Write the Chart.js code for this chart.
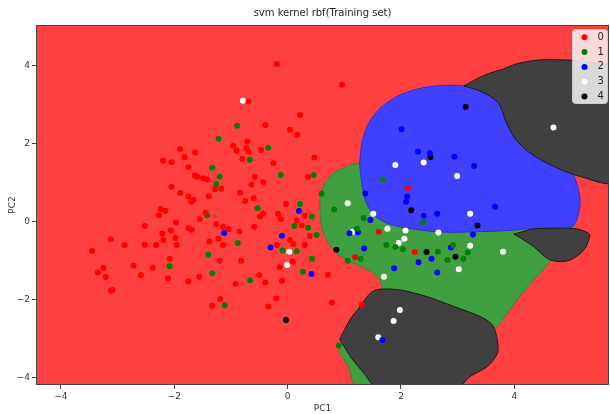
<!DOCTYPE html>
<html>
<head>
<meta charset="utf-8">
<script src="https://cdn.jsdelivr.net/npm/chart.js@4.4.0/dist/chart.umd.min.js"></script>
<style>
  html, body { margin: 0; padding: 0; background: #fff; }
  #wrap { width: 610px; height: 414px; }
</style>
</head>
<body>
<div id="wrap"><canvas id="chart" width="610" height="414"></canvas></div>
<script>
// --- tick labels ---
const xTicks = [-4, -2, 0, 2, 4];
const yTicks = [-4, -2, 0, 2, 4];
const classLabels = ['0', '1', '2', '3', '4'];

// --- training points, one list per class, [PC1, PC2] ---
const class0 = [[-0.19,4.03],[-0.69,3.07],[0.22,2.73],[-0.39,2.47],[0.04,2.35],[0.17,2.22],[-0.71,2.05],[-0.96,1.94],[-0.90,1.82],[-0.73,1.88],[-0.69,1.79],[-0.47,1.83],[-1.90,1.86],[-1.63,1.77],[-1.82,1.65],[-2.20,1.56],[-2.05,1.52],[-0.80,1.60],[-0.25,1.49],[0.47,1.64],[-1.75,1.39],[-1.64,1.18],[-1.59,1.15],[-1.49,1.11],[-1.42,1.08],[-0.58,1.15],[-0.64,0.94],[-0.43,1.01],[0.36,1.14],[-2.05,0.89],[-1.89,0.73],[-1.75,0.64],[-1.66,0.55],[-1.70,0.51],[-1.39,0.64],[-1.17,0.84],[-0.84,0.74],[-0.75,0.53],[-0.60,0.60],[-1.28,0.83],[-2.24,0.32],[-2.16,0.28],[-2.27,0.16],[-1.45,0.23],[-1.55,0.06],[-0.03,0.45],[-0.17,0.20],[-0.12,0.06],[0.30,0.15],[-0.43,0.21],[-0.49,0.13],[-2.52,-0.11],[-1.97,-0.02],[-1.75,-0.17],[-1.69,-0.21],[-1.26,-0.06],[-1.14,-0.13],[-1.04,-0.19],[-0.85,-0.25],[-0.59,-0.13],[0.16,0.02],[0.25,-0.09],[-3.12,-0.45],[-2.88,-0.60],[-2.52,-0.59],[-2.32,-0.60],[-2.21,-0.31],[-2.19,-0.47],[-2.06,-0.23],[-1.98,-0.42],[-1.96,-0.60],[-1.22,-0.44],[-1.38,-0.51],[-1.14,-0.60],[-0.19,-0.60],[0.10,-0.57],[0.30,-0.60],[0.39,-0.37],[0.04,-0.47],[-3.45,-0.75],[-3.25,-1.18],[-3.21,-1.42],[-3.35,-1.30],[-3.12,-1.77],[-3.09,-1.75],[-2.72,-1.13],[-2.59,-1.37],[-2.38,-1.18],[-2.08,-0.95],[-2.11,-1.45],[-1.75,-1.53],[-1.56,-1.41],[-1.20,-1.00],[-0.82,-1.00],[-0.92,-1.59],[-0.50,-1.37],[-0.39,-1.56],[-0.14,-1.17],[-0.10,-1.51],[0.09,-1.02],[0.71,-1.36],[-1.19,-1.98],[-1.33,-2.15],[-0.20,-1.97],[-0.34,-2.17],[1.61,-0.26],[1.19,-0.91],[0.78,-2.07],[1.31,-2.13],[0.96,3.50],[2.12,0.86],[2.24,-0.78]];
const class1 = [[-0.89,2.45],[-1.22,2.12],[-0.34,1.89],[-0.67,1.58],[-1.33,1.38],[-1.20,1.15],[-1.26,0.96],[-0.12,1.19],[0.46,1.19],[0.60,0.71],[-0.53,0.34],[-1.42,0.16],[0.22,0.45],[0.43,0.13],[0.12,-0.11],[0.36,-0.16],[0.51,-0.34],[-0.88,-0.55],[-1.40,-0.85],[-0.09,-0.74],[0.16,-0.76],[0.43,-0.95],[-2.08,-1.14],[-1.33,-1.32],[-0.66,-1.50],[0.27,-1.28],[-1.11,-2.14],[0.82,0.31],[1.68,1.08],[1.34,0.09],[1.22,-0.18],[1.74,-0.60],[1.29,-0.95],[1.06,-1.00],[2.39,-0.02],[2.65,-0.77],[3.18,-0.79],[2.92,-0.60],[2.82,-0.98],[3.10,-0.95],[1.90,-0.65],[2.03,-0.71],[0.90,-3.17]];
const class2 = [[0.20,0.27],[-1.12,-0.29],[-0.10,-0.36],[-0.30,-0.66],[0.42,-1.34],[1.37,0.72],[1.46,0.04],[1.09,-0.30],[1.24,-0.27],[1.35,-0.69],[2.01,2.36],[2.30,1.79],[2.51,1.75],[2.94,1.66],[3.29,1.42],[2.11,0.64],[2.09,0.51],[3.66,0.38],[2.40,0.15],[2.64,0.20],[3.27,-0.33],[2.88,-0.66],[2.64,-1.30],[2.31,-1.04],[2.54,-0.95],[1.88,-1.19],[1.67,-3.03]];
const class3 = [[-0.79,3.09],[0.03,-0.77],[-0.01,-1.11],[1.06,0.47],[1.51,0.20],[1.76,-0.18],[1.15,-0.26],[1.70,-1.41],[1.90,1.45],[2.40,1.51],[2.99,1.17],[4.69,2.41],[3.22,0.20],[2.66,-0.28],[2.08,-0.23],[2.06,-0.44],[3.22,-0.62],[3.80,-0.77],[3.02,-1.22],[1.96,-0.55],[1.98,-2.26],[1.87,-2.54],[1.60,-2.96]];
const class4 = [[-0.03,-2.52],[0.86,-0.72],[3.14,2.93],[2.52,1.65],[2.18,0.29],[3.35,-0.10],[2.96,-0.90],[2.45,-0.78]];

// --- decision regions (outlines in PC1/PC2) ---
const greenRegion = [[0.57,0.55],[0.63,0.90],[0.81,1.24],[1.05,1.41],[1.32,1.50],[2.34,1.07],[3.75,0.17],[4.28,-0.16],[4.55,-0.37],[4.67,-0.88],[4.34,-1.49],[4.05,-2.00],[3.70,-2.69],[3.22,-3.41],[2.52,-4.25],[1.24,-4.25],[1.06,-3.67],[0.92,-3.28],[1.19,-2.51],[1.66,-1.70],[1.52,-1.32],[1.16,-1.06],[0.87,-0.81],[0.69,-0.47],[0.60,-0.13],[0.57,0.30],[0.57,0.55]];
const blueRegion = [[1.27,1.49],[1.31,2.01],[1.43,2.52],[1.63,2.90],[1.93,3.20],[2.28,3.39],[2.69,3.48],[3.11,3.47],[3.52,3.28],[3.99,2.77],[4.46,2.17],[4.87,1.58],[5.08,1.07],[5.16,0.55],[5.12,0.13],[5.02,-0.13],[4.70,-0.19],[4.34,-0.17],[3.87,-0.23],[3.28,-0.26],[2.75,-0.27],[2.22,-0.19],[1.81,-0.07],[1.52,0.17],[1.37,0.55],[1.30,1.07],[1.27,1.49]];
const blackTop = [[3.11,3.47],[3.46,3.74],[3.81,3.91],[4.05,4.04],[4.40,4.13],[4.76,4.14],[5.17,4.11],[5.52,4.03],[5.75,3.93],[5.75,1.04],[5.17,1.15],[4.70,1.41],[4.28,1.75],[3.99,2.17],[3.84,2.60],[3.72,3.03],[3.43,3.32],[3.11,3.47]];
const blackWedge = [[3.99,-0.32],[4.34,-0.19],[4.81,-0.17],[5.11,-0.19],[5.31,-0.30],[5.33,-0.38],[5.23,-0.72],[4.99,-0.98],[4.76,-1.02],[4.58,-0.94],[4.34,-0.64],[4.11,-0.42],[3.99,-0.32]];
const blackBottom = [[0.92,-3.01],[1.10,-2.51],[1.28,-2.17],[1.46,-1.83],[1.63,-1.73],[1.99,-1.75],[2.46,-1.92],[2.93,-2.17],[3.40,-2.43],[3.61,-2.64],[3.70,-3.03],[3.70,-3.37],[3.52,-3.71],[3.22,-3.96],[2.99,-4.25],[1.58,-4.25],[1.36,-3.90],[1.12,-3.48],[0.92,-3.01]];

const pointColors = ['#ff0000', '#008000', '#0000ff', '#ffffff', '#000000'];
const FONT = 'DejaVu Sans';

const toXY = arr => arr.map(p => ({ x: p[0], y: p[1] }));
const fmt = v => String(v).replace('-', '\u2212');

function region(pts, fillCol, lineCol, order) {
  return {
    type: 'line',
    data: toXY(pts),
    backgroundColor: fillCol,
    borderColor: lineCol,
    borderWidth: 1,
    pointRadius: 0,
    tension: 0.3,
    fill: 'shape',
    order: order
  };
}

function points(pts, i) {
  return {
    label: classLabels[i],
    data: toXY(pts),
    backgroundColor: pointColors[i],
    borderWidth: 0,
    pointRadius: 3,
    order: 1
  };
}

// red background = class 0 region, plus frame and legend
const plotBack = {
  id: 'plotBack',
  beforeDatasetsDraw(chart) {
    const { ctx, chartArea: a } = chart;
    ctx.save();
    ctx.fillStyle = 'rgb(255,64,64)';
    ctx.fillRect(a.left, a.top, a.right - a.left, a.bottom - a.top);
    ctx.restore();
  },
  afterDraw(chart) {
    const { ctx, chartArea: a } = chart;
    ctx.save();
    ctx.strokeStyle = '#444';
    ctx.lineWidth = 1;
    ctx.strokeRect(a.left + 0.5, a.top + 0.5, a.right - a.left - 1, a.bottom - a.top - 1);

    // legend, upper right like matplotlib
    const w = 35, h = 74;
    const x0 = a.right - w - 1.5, y0 = a.top + 4.5;
    ctx.fillStyle = 'rgba(255,255,255,0.8)';
    ctx.strokeStyle = '#cccccc';
    ctx.beginPath();
    ctx.roundRect(x0, y0, w, h, 3);
    ctx.fill();
    ctx.stroke();
    ctx.font = '10px "' + FONT + '"';
    ctx.textBaseline = 'middle';
    classLabels.forEach((lab, i) => {
      const yy = y0 + 7.8 + i * 14.8;
      ctx.fillStyle = pointColors[i];
      ctx.beginPath();
      ctx.arc(x0 + 12, yy, 3, 0, Math.PI * 2);
      ctx.fill();
      ctx.fillStyle = '#222';
      ctx.fillText(lab, x0 + 25, yy);
    });
    ctx.restore();
  }
};

new Chart(document.getElementById('chart'), {
  type: 'scatter',
  data: {
    datasets: [
      points(class0, 0), points(class1, 1), points(class2, 2), points(class3, 3), points(class4, 4),
      region(blackTop, 'rgb(64,64,64)', 'rgb(25,25,25)', 5),
      region(blackWedge, 'rgb(64,64,64)', 'rgb(25,25,25)', 5),
      region(blackBottom, 'rgb(64,64,64)', 'rgb(25,25,25)', 5),
      region(blueRegion, 'rgb(64,64,255)', 'rgb(45,45,210)', 6),
      region(greenRegion, 'rgb(64,160,64)', 'rgb(50,135,50)', 7)
    ]
  },
  options: {
    responsive: false,
    animation: false,
    layout: { autoPadding: false, padding: { left: 0, right: 1, top: 0, bottom: 0 } },
    plugins: {
      legend: { display: false },
      tooltip: { enabled: false },
      title: {
        display: true,
        fullSize: false,
        text: 'svm kernel rbf(Training set)',
        color: '#222',
        font: { family: FONT, size: 10, weight: 'normal' },
        padding: { top: 7, bottom: 6 }
      }
    },
    scales: {
      x: {
        type: 'linear',
        min: -4.44,
        max: 5.67,
        afterBuildTicks: s => { s.ticks = xTicks.map(v => ({ value: v })); },
        afterFit: s => { s.height = 29; s.paddingLeft = 0; s.paddingRight = 0; },
        grid: { drawOnChartArea: false, drawTicks: true, tickLength: 4, color: '#444' },
        border: { display: false },
        ticks: { color: '#333', padding: 2, font: { family: FONT, size: 9 }, callback: v => fmt(v) },
        title: { display: true, text: 'PC1', color: '#333', padding: { top: 2, bottom: 0 }, font: { family: FONT, size: 9 } }
      },
      y: {
        type: 'linear',
        min: -4.18,
        max: 5.03,
        afterBuildTicks: s => { s.ticks = yTicks.map(v => ({ value: v })); },
        afterFit: s => { s.width = 36; },
        grid: { drawOnChartArea: false, drawTicks: true, tickLength: 4, color: '#444' },
        border: { display: false },
        ticks: { color: '#333', padding: 2, font: { family: FONT, size: 9 }, callback: v => fmt(v) },
        title: { display: true, text: 'PC2', color: '#333', padding: { top: 7, bottom: 0 }, font: { family: FONT, size: 9 } }
      }
    }
  },
  plugins: [plotBack]
});
</script>
</body>
</html>
